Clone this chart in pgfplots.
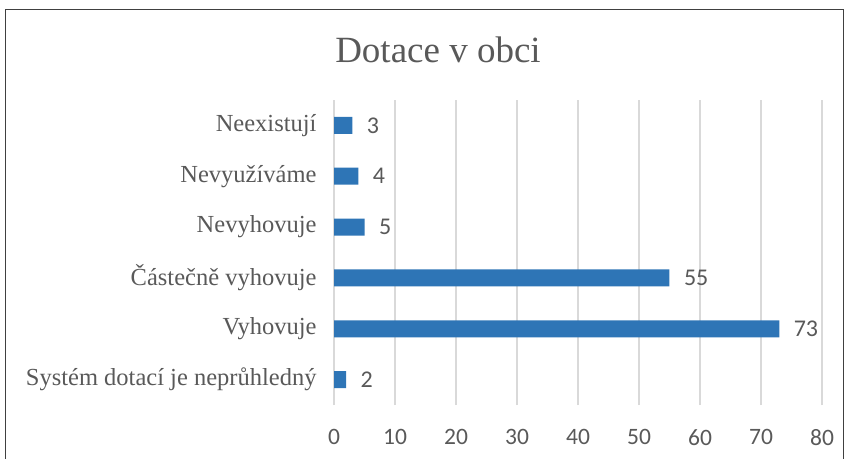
\documentclass[border=0pt]{standalone}
\usepackage{fontspec}
\setmainfont{Liberation Serif}
\newfontfamily\calfont{Carlito}
\usepackage{pgfplots}
\pgfplotsset{compat=1.18}
\definecolor{barblue}{RGB}{46,117,182}
\definecolor{txtgrey}{RGB}{89,89,89}
\definecolor{gridgrey}{RGB}{217,217,217}
\begin{document}
\begin{tikzpicture}[x=1pt,y=1pt]
\useasboundingbox (0,0) rectangle (845,458);
\draw[black!75, line width=1pt] (5,-5) rectangle (843,448);
\node[font=\fontsize{37}{44}\selectfont, text=txtgrey] at (438,408) {Dotace v obci};
\begin{axis}[at={(334pt,53pt)}, anchor=south west, scale only axis,
  width=488pt, height=305pt,
  xbar, bar width=17pt, xmin=0, xmax=80, ymin=-0.5, ymax=5.5,
  xtick={0,10,...,80}, ytick={0,...,5},
  yticklabels={Systém dotací je neprůhledný, Vyhovuje, Částečně vyhovuje, Nevyhovuje, Nevyužíváme, Neexistují},
  xmajorgrids, major grid style={gridgrey, line width=1.5pt},
  axis line style={draw=none}, major tick length=0,
  /pgf/number format/assume math mode=true,
  xticklabel style={font=\calfont\fontsize{23.5}{28}\selectfont, text=txtgrey, yshift=-21pt},
  yticklabel style={font=\fontsize{24.5}{29}\selectfont, text=txtgrey, xshift=-14pt},
  nodes near coords,
  nodes near coords style={font=\calfont\fontsize{24}{28}\selectfont, text=txtgrey, anchor=west, xshift=11pt},
  ]
\addplot[fill=barblue, draw=none] coordinates {(2,0) (73,1) (55,2) (5,3) (4,4) (3,5)};
\end{axis}
\end{tikzpicture}
\end{document}
